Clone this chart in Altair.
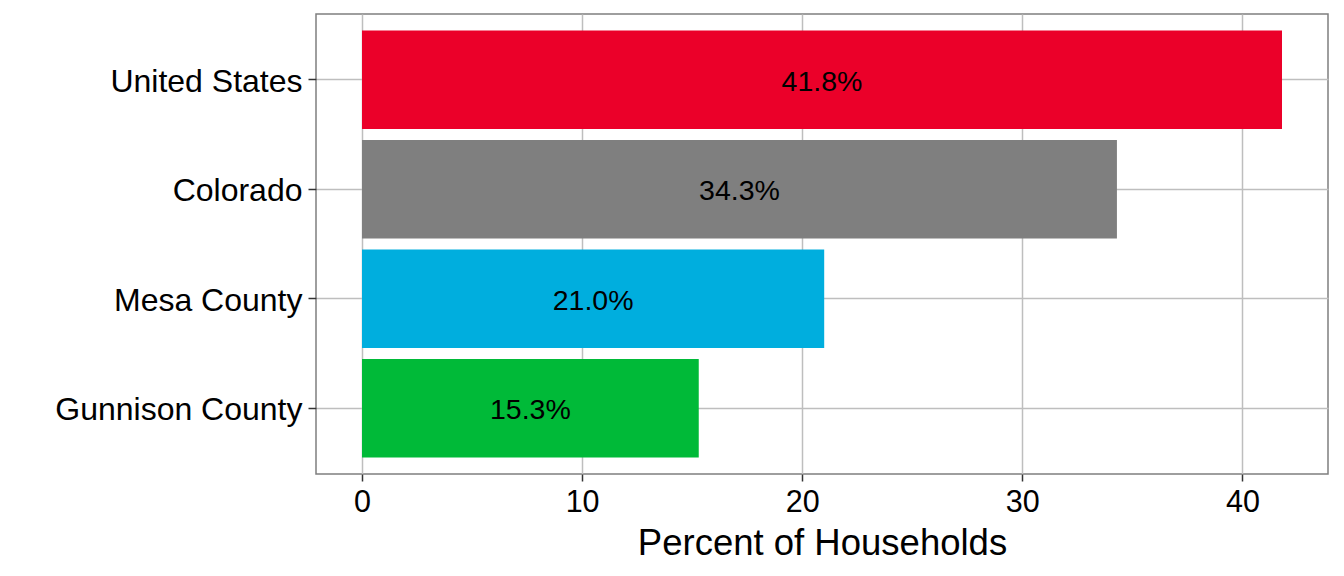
import altair as alt
import pandas as pd

regions = ["United States", "Colorado", "Mesa County", "Gunnison County"]
values = [41.8, 34.3, 21.0, 15.3]
labels = ["41.8%", "34.3%", "21.0%", "15.3%"]
colors = ["#EB0029", "#7F7F7F", "#00AEDE", "#00BA38"]
x_ticks = [0, 10, 20, 30, 40]

df = pd.DataFrame({"region": regions, "value": values, "label": labels})
df["half"] = df["value"] / 2

FONT = "Liberation Sans"

y_enc = alt.Y(
    "region:N",
    sort=regions,
    scale=alt.Scale(paddingInner=0.1, paddingOuter=0.15),
    axis=alt.Axis(
        title=None,
        labelFontSize=32,
        labelColor="black",
        labelFont=FONT,
        labelPadding=6,
        labelLimit=0,
        labelOffset=2,
        tickSize=8,
        tickColor="#333333",
        tickWidth=1.5,
        grid=True,
        gridColor="#BEBEBE",
        gridWidth=1.5,
        domain=False,
        bandPosition=0.5,
    ),
)

x_scale = alt.Scale(domain=[-2.09, 43.89], nice=False, zero=False)

bars = alt.Chart(df).mark_bar().encode(
    x=alt.X(
        "value:Q",
        scale=x_scale,
        axis=alt.Axis(
            values=x_ticks,
            title="Percent of Households",
            titleFontSize=36.5,
            titleFontWeight="normal",
            titleColor="black",
            titleFont=FONT,
            titlePadding=8,
            labelFontSize=30.5,
            labelColor="black",
            labelFont=FONT,
            labelPadding=6,
            tickSize=7,
            tickColor="#333333",
            tickWidth=1.5,
            grid=True,
            gridColor="#BEBEBE",
            gridWidth=1.5,
            domain=False,
        ),
    ),
    x2=alt.datum(0),
    y=y_enc,
    color=alt.Color("region:N", scale=alt.Scale(domain=regions, range=colors), legend=None),
)

text = alt.Chart(df).mark_text(fontSize=28.5, font=FONT, color="black", baseline="middle", align="center", dy=2).encode(
    x=alt.X("half:Q", scale=x_scale),
    y=alt.Y("region:N", sort=regions),
    text="label:N",
)

chart = (
    alt.layer(bars, text)
    .properties(
        width=1012,
        height=460,
        autosize=alt.AutoSizeParams(type="none"),
        padding={"left": 308, "top": 6, "right": 8, "bottom": 90},
    )
    .configure_view(stroke="#7F7F7F", strokeWidth=1.5)
)

chart.save("out.html", embed_options={"renderer": "svg", "actions": False})
